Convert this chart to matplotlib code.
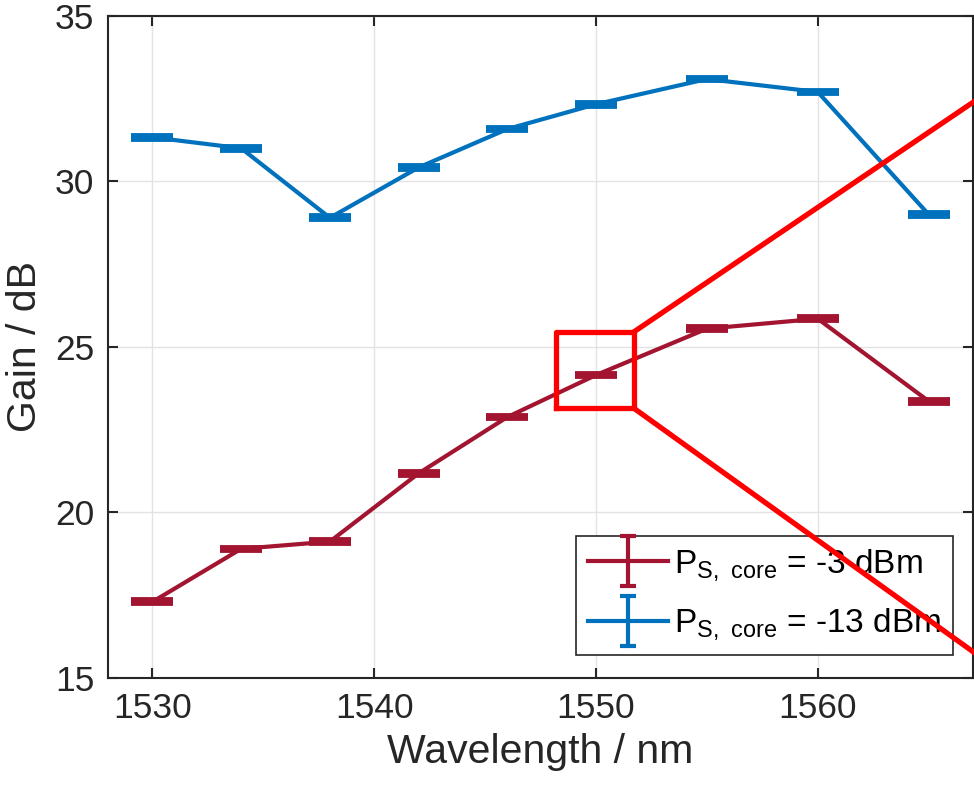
import numpy as np
import matplotlib
matplotlib.use("Agg")
import matplotlib.pyplot as plt
from matplotlib.container import ErrorbarContainer
from matplotlib.legend_handler import HandlerErrorbar

plt.rcParams['font.family'] = ['Liberation Sans', 'DejaVu Sans']
plt.rcParams['mathtext.fontset'] = 'custom'
plt.rcParams['mathtext.rm'] = 'Liberation Sans'

wavelength = [1530, 1534, 1538, 1542, 1546, 1550, 1555, 1560, 1565]
gain_m3dbm = [17.30, 18.90, 19.12, 21.18, 22.88, 24.15, 25.55, 25.85, 23.36]
gain_m13dbm = [31.33, 31.00, 28.90, 30.42, 31.58, 32.33, 33.09, 32.70, 29.00]
err_m3dbm = [0.04] * 9
err_m13dbm = [0.04] * 9

labels = [r'P$_\mathregular{S,\ core}$ = -3 dBm',
          r'P$_\mathregular{S,\ core}$ = -13 dBm']
colors = ['#A2142F', '#0072BD']

# zoom-box (data coords) and the two guide lines leaving it
box_x = [1548.2, 1551.7]
box_y = [23.15, 25.45]
guide_end_x = 1570.0
guide_end_y = [33.75, 14.35]

fig = plt.figure(figsize=(9.74, 7.92), dpi=100)
ax = fig.add_axes([0.111, 0.144, 0.888, 0.836])

ink = '#262626'
for x, y, e, c in [(wavelength, gain_m3dbm, err_m3dbm, colors[0]),
                   (wavelength, gain_m13dbm, err_m13dbm, colors[1])]:
    ax.errorbar(x, y, yerr=e, color=c, lw=3.0, capsize=14.8, capthick=4.2,
                elinewidth=3.0, zorder=3)

handles = []
for c in colors:
    h = ax.errorbar([np.nan], [np.nan], yerr=[0.1], color=c, lw=3.0,
                    capsize=5.5, capthick=3.0, elinewidth=3.0)
    handles.append(h)

ax.set_xlim(1528, 1567)
ax.set_ylim(15, 35)
ax.set_xticks([1530, 1540, 1550, 1560])
ax.set_yticks([15, 20, 25, 30, 35])
ax.grid(True, color='#e3e3e3', lw=1.0, zorder=0)
ax.set_axisbelow(True)
ax.tick_params(direction='in', length=7, width=1.5, colors=ink,
               labelsize=25.5, top=True, right=True, pad=10)
for s in ax.spines.values():
    s.set_color(ink)
    s.set_linewidth(1.5)
ax.set_xlabel('Wavelength / nm', fontsize=29.5, color=ink, labelpad=6)
ax.set_ylabel('Gain / dB', fontsize=29.5, color=ink, labelpad=8)

leg = ax.legend(handles, labels, loc='lower left',
                bbox_to_anchor=(0.541, 0.035), borderaxespad=0,
                fontsize=24, frameon=True, fancybox=False, framealpha=1,
                edgecolor=ink, handlelength=2.4, handletextpad=0.2,
                labelspacing=0.7, borderpad=0.35,
                handler_map={ErrorbarContainer: HandlerErrorbar(yerr_size=0.75)})
leg.get_frame().set_linewidth(1.2)

red = '#FF0000'
ax.plot([box_x[0], box_x[1], box_x[1], box_x[0], box_x[0]],
        [box_y[0], box_y[0], box_y[1], box_y[1], box_y[0]],
        color=red, lw=3.8, solid_joinstyle='round', zorder=10, clip_on=False)
ax.plot([box_x[1], guide_end_x], [box_y[1], guide_end_y[0]], color=red,
        lw=3.8, zorder=10, clip_on=False)
ax.plot([box_x[1], guide_end_x], [box_y[0], guide_end_y[1]], color=red,
        lw=3.8, zorder=10, clip_on=False)

fig.savefig('out.png', dpi=100)
